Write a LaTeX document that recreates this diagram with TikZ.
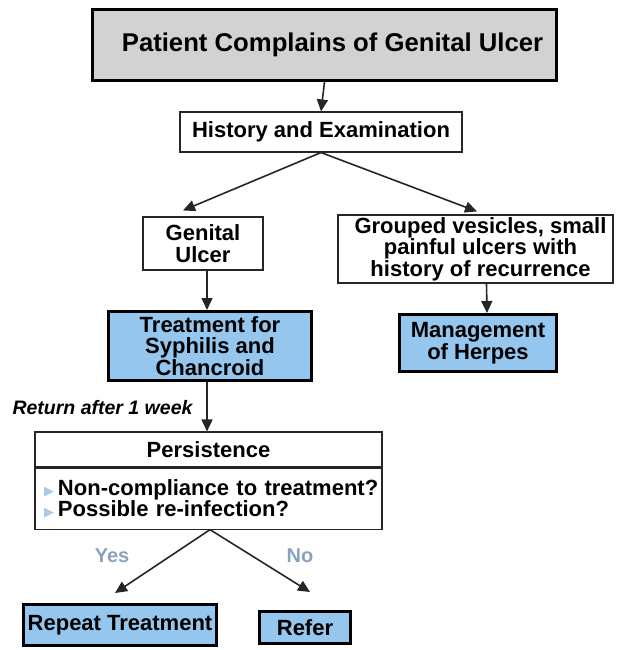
\documentclass[tikz,border=0pt]{standalone}
\usepackage{fontspec}
\setmainfont{Liberation Sans}
\newfontfamily\symfont{DejaVu Sans}
\usetikzlibrary{arrows.meta}
\definecolor{boxblue}{HTML}{95C6EE}
\definecolor{titlegray}{HTML}{D2D2D2}
\definecolor{answer}{HTML}{8AA3BD}
\definecolor{bullet}{HTML}{A9C9E6}
\newcommand{\qbullet}{\hspace*{9pt}{\symfont\fontsize{13}{21}\selectfont\color{bullet}▶}\hspace{4pt}}
\begin{document}
\begin{tikzpicture}[x=1pt,y=-1pt,
  txt/.style={font=\fontsize{22}{21.5}\selectfont\bfseries, align=center},
  plainbox/.style={txt, draw=black!85, line width=1.1pt, fill=white, inner sep=0pt},
  bluebox/.style={txt, draw=black, line width=3pt, fill=boxblue, inner sep=0pt},
  arr/.style={-{Triangle[length=12pt,width=11pt]}, line width=1.6pt, draw=black!85, fill=black!85},
  answertxt/.style={font=\fontsize{20}{22}\selectfont\bfseries, text=answer}]
  \useasboundingbox (0,0) rectangle (616,650);

  % title
  \node[draw=black, line width=3pt, fill=titlegray, minimum width=464pt, minimum height=71pt,
        font=\fontsize{25.7}{28}\selectfont\bfseries] (title) at (324.5,45)
       {\hspace*{16pt}Patient Complains of Genital Ulcer};

  % first level
  \node[plainbox, minimum width=282pt, minimum height=40pt] (hist) at (321,132) {History and Examination};
  \node[plainbox, minimum width=120pt, minimum height=53pt] (gu) at (203,243.5) {Genital\\Ulcer};
  \node[plainbox, minimum width=275pt, minimum height=68pt] (grp) at (475.5,249)
       {\hspace*{10pt}Grouped vesicles, small\\\hspace*{10pt}painful ulcers with\\\hspace*{10pt}history of recurrence};

  % treatments
  \node[bluebox, minimum width=203pt, minimum height=69pt] (treat) at (210,346)
       {Treatment for\\Syphilis and\\Chancroid};
  \node[bluebox, minimum width=157pt, minimum height=57pt] (herp) at (478,343)
       {Management\\of Herpes};

  % persistence box: header and question list
  \node[plainbox, minimum width=347pt, minimum height=35pt] (pers) at (208.5,449.5) {Persistence};
  \node[plainbox, minimum width=347pt, minimum height=61pt, text width=347pt, align=left,
        anchor=north] (q) at (pers.south)
       {\qbullet Non-compliance to treatment?\\
        \qbullet Possible re-infection?};

  % outcomes
  \node[bluebox, minimum width=193pt, minimum height=41pt] (rep) at (120,625) {Repeat Treatment};
  \node[bluebox, minimum width=91pt, minimum height=32pt] (refer) at (305,627.5) {Refer};

  % connectors
  \draw[arr] (title.south) -- (hist.north);
  \draw[arr] (hist.south) -- ([shift={(-20pt,6pt)}]gu.north);
  \draw[arr] (hist.south) -- ([shift={(1.5pt,3pt)}]grp.north);
  \draw[arr] ([xshift=4pt]gu.south) -- ([xshift=-3pt]treat.north);
  \draw[arr] ([xshift=11pt]grp.south) -- ([xshift=9pt]herp.north);
  \draw[arr] ([xshift=-3pt]treat.south) -- ([xshift=-1.5pt]pers.north);
  \draw[arr] ([xshift=1.5pt]q.south) -- ([shift={(-5pt,10pt)}]rep.north);
  \draw[arr] ([xshift=1.5pt]q.south) -- ([shift={(5pt,18pt)}]refer.north);

  % labels
  \node[font=\fontsize{19.5}{20}\selectfont\bfseries\itshape, anchor=east] (ret) at (196,408) {Return after 1 week};
  \node[answertxt] (yes) at (112,556) {Yes};
  \node[answertxt] (no) at (300,556) {No};
\end{tikzpicture}
\end{document}
